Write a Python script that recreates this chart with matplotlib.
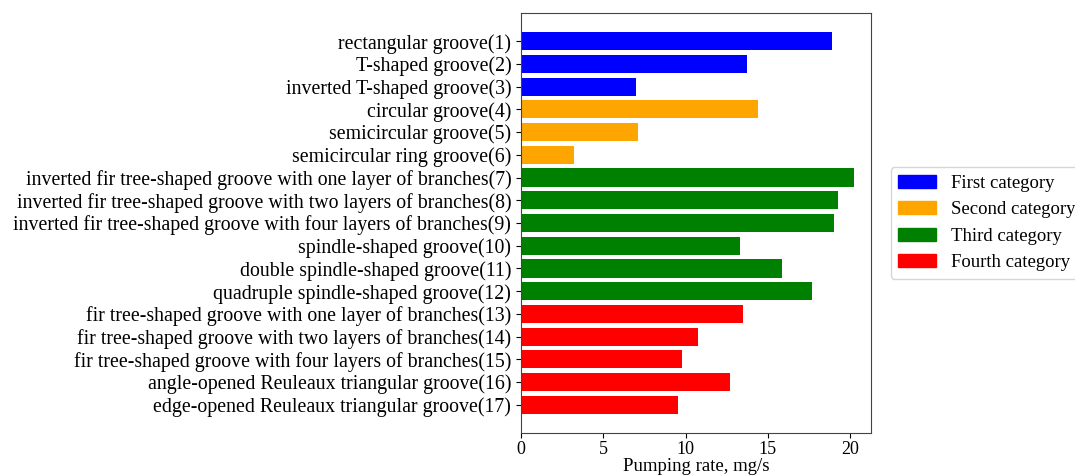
import matplotlib
matplotlib.use("Agg")
import matplotlib.pyplot as plt
from matplotlib.patches import Patch

plt.rcParams['font.family'] = ['Liberation Serif', 'DejaVu Serif']

grooves = [
    "rectangular groove(1)",
    "T-shaped groove(2)",
    "inverted T-shaped groove(3)",
    "circular groove(4)",
    "semicircular groove(5)",
    "semicircular ring groove(6)",
    "inverted fir tree-shaped groove with one layer of branches(7)",
    "inverted fir tree-shaped groove with two layers of branches(8)",
    "inverted fir tree-shaped groove with four layers of branches(9)",
    "spindle-shaped groove(10)",
    "double spindle-shaped groove(11)",
    "quadruple spindle-shaped groove(12)",
    "fir tree-shaped groove with one layer of branches(13)",
    "fir tree-shaped groove with two layers of branches(14)",
    "fir tree-shaped groove with four layers of branches(15)",
    "angle-opened Reuleaux triangular groove(16)",
    "edge-opened Reuleaux triangular groove(17)",
]
rates = [18.9, 13.75, 7.0, 14.4, 7.1, 3.2, 20.25, 19.3, 19.0, 13.3,
         15.85, 17.7, 13.5, 10.75, 9.8, 12.7, 9.55]
category = [0, 0, 0, 1, 1, 1, 2, 2, 2, 2, 2, 2, 3, 3, 3, 3, 3]
cat_names = ["First category", "Second category", "Third category", "Fourth category"]
cat_colors = ["blue", "orange", "green", "red"]

fig = plt.figure(figsize=(10.75, 4.76), dpi=100)
ax = fig.add_axes([0.4847, 0.0903, 0.3253, 0.8824])

colors = [cat_colors[c] for c in category]
ax.barh(range(len(grooves)), rates, height=0.8, color=colors)
ax.set_yticks(range(len(grooves)))
ax.set_yticklabels(grooves, fontsize=14.3)
ax.invert_yaxis()
ax.set_xticks([0, 5, 10, 15, 20])
ax.tick_params(axis='x', labelsize=13, pad=2.5)
ax.set_xlabel("Pumping rate, mg/s", fontsize=13.5, labelpad=0)
for sp in ax.spines.values():
    sp.set_color('#444444')

handles = [Patch(color=c, label=n) for c, n in zip(cat_colors, cat_names)]
ax.legend(handles=handles, loc='center left', bbox_to_anchor=(1.03, 0.5),
          fontsize=13.5)

fig.savefig("out.png", dpi=100)
